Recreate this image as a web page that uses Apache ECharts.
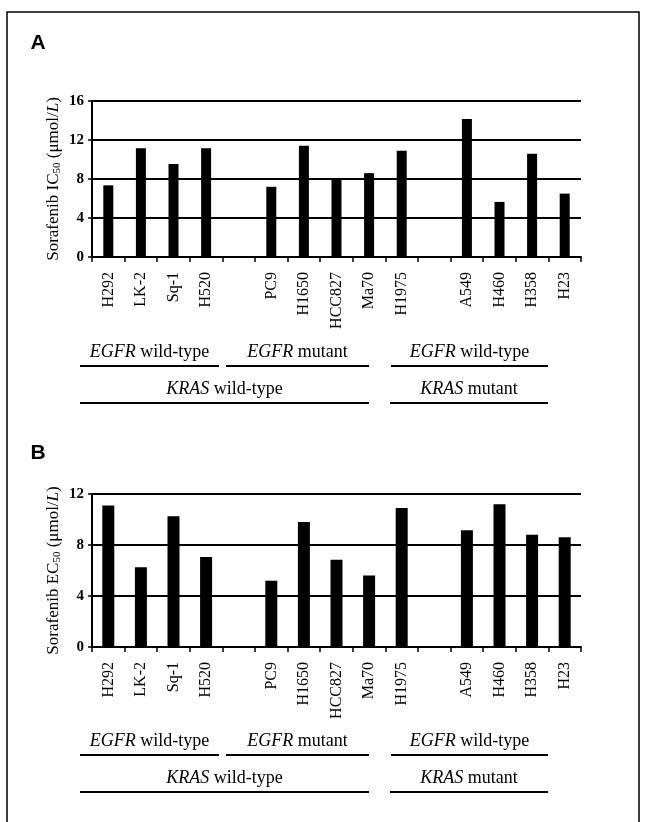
<!DOCTYPE html>
<html>
<head>
<meta charset="utf-8">
<script src="https://cdn.jsdelivr.net/npm/echarts@6/dist/echarts.min.js"></script>
<style>
  html, body { margin: 0; padding: 0; background: #fff; }
  #main { width: 646px; height: 822px; }
</style>
</head>
<body>
<div id="main"></div>
<script>
// cell lines, '' = gap between groups
var cellLines = ['H292', 'LK-2', 'Sq-1', 'H520', '', 'PC9', 'H1650', 'HCC827', 'Ma70', 'H1975', '', 'A549', 'H460', 'H358', 'H23'];
// panel A: sorafenib IC50 (umol/L)
var ic50 = [7.35, 11.15, 9.55, 11.15, null, 7.2, 11.4, 8.05, 8.6, 10.9, null, 14.15, 5.65, 10.6, 6.5];
// panel B: sorafenib EC50 (umol/L)
var ec50 = [11.1, 6.25, 10.25, 7.05, null, 5.2, 9.8, 6.85, 5.6, 10.9, null, 9.15, 11.2, 8.8, 8.6];
var ticksA = [0, 4, 8, 12, 16];
var ticksB = [0, 4, 8, 12];

var serif = '"Liberation Serif", "DejaVu Serif", serif';
var myChart = echarts.init(document.getElementById('main'));

function xAxisFor(gridIndex) {
    return {
        type: 'category',
        gridIndex: gridIndex,
        data: cellLines,
        axisLine: { lineStyle: { color: '#000', width: 2 } },
        axisTick: { show: true, interval: 0, length: 5, lineStyle: { color: '#000', width: 1.5 } },
        axisLabel: {
            interval: 0,
            rotate: 90,
            margin: 15,
            color: '#000',
            fontFamily: serif,
            fontSize: 16
        }
    };
}

function yAxisFor(gridIndex, ticks, sub) {
    return {
        type: 'value',
        gridIndex: gridIndex,
        min: ticks[0],
        max: ticks[ticks.length - 1],
        interval: 4,
        name: '{a|Sorafenib ' + sub + '}{s|50}{a| (μmol/}{i|L}{a|)}',
        nameLocation: 'middle',
        nameGap: 29,
        nameMoveOverlap: false,
        nameTextStyle: {
            rich: {
                a: { fontFamily: serif, fontSize: 17, color: '#000' },
                i: { fontFamily: serif, fontSize: 17, fontStyle: 'italic', color: '#000' },
                s: { fontFamily: serif, fontSize: 11, color: '#000', padding: [8, 0, 0, 0] }
            }
        },
        axisLine: { show: true, lineStyle: { color: '#000', width: 2 } },
        axisTick: { show: true, length: 4, lineStyle: { color: '#000', width: 1.5 } },
        axisLabel: {
            margin: 8,
            color: '#000',
            fontFamily: serif,
            fontWeight: 'bold',
            fontSize: 15
        },
        splitLine: { show: true, lineStyle: { color: '#000', width: 2 } }
    };
}

// group labels under each panel
function groupLabels(y1, y2) {
    var items = [];
    var row1 = [
        { text: '{i|EGFR} wild-type', x0: 80, x1: 219 },
        { text: '{i|EGFR} mutant', x0: 226, x1: 369 },
        { text: '{i|EGFR} wild-type', x0: 391, x1: 548 }
    ];
    var row2 = [
        { text: '{i|KRAS} wild-type', x0: 80, x1: 369 },
        { text: '{i|KRAS} mutant', x0: 390, x1: 548 }
    ];
    function add(g, y) {
        items.push({
            type: 'text',
            style: {
                text: g.text,
                x: (g.x0 + g.x1) / 2, y: y - 5,
                align: 'center',
                verticalAlign: 'bottom',
                fontFamily: serif,
                fontSize: 18,
                fill: '#000',
                rich: { i: { fontFamily: serif, fontSize: 18, fontStyle: 'italic', fill: '#000' } }
            }
        });
        items.push({
            type: 'line',
            shape: { x1: g.x0, y1: y, x2: g.x1, y2: y },
            style: { stroke: '#000', lineWidth: 2 }
        });
    }
    row1.forEach(function (g) { add(g, y1); });
    row2.forEach(function (g) { add(g, y2); });
    return items;
}

var graphics = [
    { type: 'rect', shape: { x: 7, y: 12, width: 632, height: 830 }, style: { fill: 'none', stroke: '#000', lineWidth: 1.5 } },
    { type: 'text', style: { text: 'A', x: 38, y: 43, align: 'center', verticalAlign: 'middle', fontFamily: '"Liberation Sans", Arial, sans-serif', fontWeight: 'bold', fontSize: 21, fill: '#000' } },
    { type: 'text', style: { text: 'B', x: 38, y: 453, align: 'center', verticalAlign: 'middle', fontFamily: '"Liberation Sans", Arial, sans-serif', fontWeight: 'bold', fontSize: 21, fill: '#000' } }
].concat(groupLabels(366, 403)).concat(groupLabels(755, 792));

var option = {
    animation: false,
    backgroundColor: '#fff',
    grid: [
        { left: 92, top: 101, width: 489, height: 156 },
        { left: 92, top: 494, width: 489, height: 153 }
    ],
    xAxis: [xAxisFor(0), xAxisFor(1)],
    yAxis: [yAxisFor(0, ticksA, 'IC'), yAxisFor(1, ticksB, 'EC')],
    series: [
        { type: 'bar', xAxisIndex: 0, yAxisIndex: 0, data: ic50, barWidth: 10, itemStyle: { color: '#000' } },
        { type: 'bar', xAxisIndex: 1, yAxisIndex: 1, data: ec50, barWidth: 12, itemStyle: { color: '#000' } }
    ],
    graphic: graphics
};
myChart.setOption(option, true);
</script>
</body>
</html>
